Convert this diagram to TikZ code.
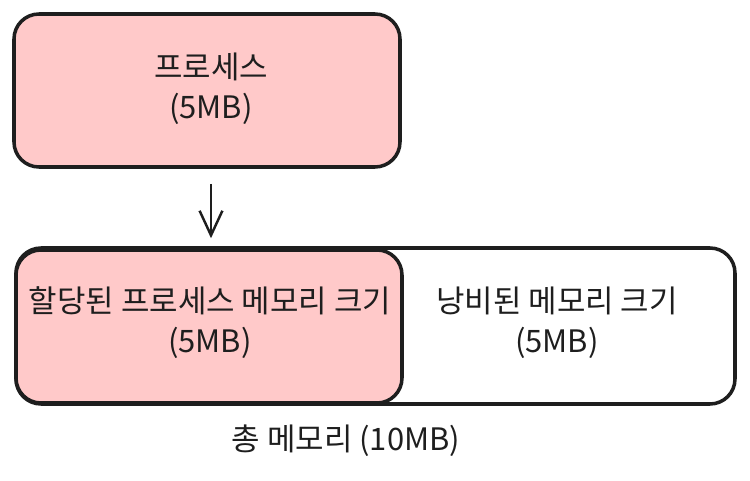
\documentclass[tikz,border=0pt]{standalone}
\usepackage{fontspec}
\setmainfont{Noto Sans CJK KR}
\usepackage{tikz}
\usetikzlibrary{arrows.meta, positioning}
\usepackage{xcolor}
\definecolor{procpink}{HTML}{FFC9C9}
\definecolor{inkline}{HTML}{1E1E1E}

\begin{document}
\begin{tikzpicture}[font=\fontsize{17.6}{23}\selectfont, >={Straight Barb[length=14pt,width=13pt,line width=1.4pt]},
    membox/.style={draw=inkline, line width=2pt, rounded corners=0.5cm, inner sep=0pt},
    lbl/.style={align=center, text=inkline}]
  \useasboundingbox (0,0) rectangle (15,-9.62);
  % process box
  \node[membox, fill=procpink, minimum width=7.72cm, minimum height=3.06cm] (proc) at (4.14,-1.81) {};
  \node[lbl] (proctxt) at (4.22,-1.78) {프로세스\\(5MB)};
  % total memory
  \node[membox, fill=white, minimum width=14.38cm, minimum height=3.12cm] (total) at (7.51,-6.52) {};
  \node[membox, fill=procpink, minimum width=7.72cm, minimum height=3.06cm] (alloc) at (4.18,-6.53) {};
  \node[lbl] (alloctxt) at (4.2,-6.45) {할당된 프로세스 메모리 크기\\(5MB)};
  \node[lbl] (wastetxt) at (11.14,-6.45) {낭비된 메모리 크기\\(5MB)};
  \node[lbl] (totaltxt) at (6.92,-8.82) {총 메모리 (10MB)};
  \draw[->, inkline, line width=1.4pt, shorten <=0.3cm, shorten >=0.2cm] (proc.south -| 4.22,0) -- (alloc.north -| 4.22,0);
\end{tikzpicture}
\end{document}
